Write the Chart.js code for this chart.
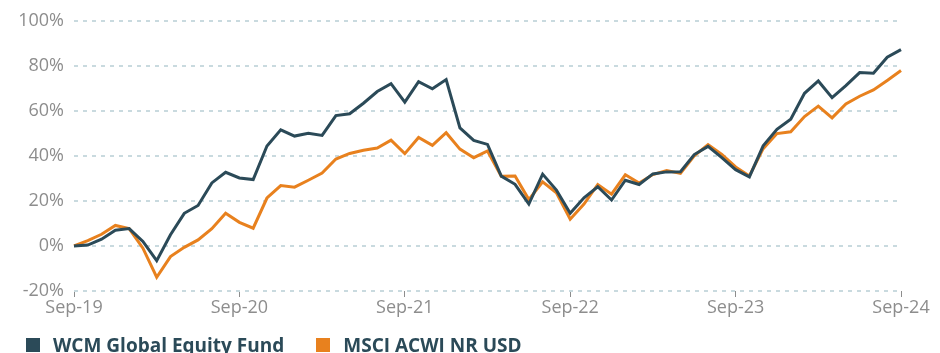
<!DOCTYPE html>
<html>
<head>
<meta charset="utf-8">
<script src="https://cdn.jsdelivr.net/npm/chart.js@4"></script>
<style>
  body { margin: 0; background: #fff; font-family: 'Open Sans', sans-serif; }
  #wrap { position: relative; width: 940px; height: 353px; }
  #legend { position: absolute; left: 26px; top: 332px; display: flex; align-items: center;
            font: 700 19px 'Open Sans', sans-serif; color: #2b4a58; }
  .item { display: flex; align-items: center; margin-right: 32px; }
  .box { width: 14px; height: 14px; margin-right: 13px; }
</style>
</head>
<body>
<div id="wrap">
  <canvas id="growthChart"></canvas>
  <div id="legend"></div>
</div>
<script>
const tickLabels = ['Sep-19', 'Sep-20', 'Sep-21', 'Sep-22', 'Sep-23', 'Sep-24'];
const monthNames = ['Sep', 'Oct', 'Nov', 'Dec', 'Jan', 'Feb', 'Mar', 'Apr', 'May', 'Jun', 'Jul', 'Aug'];

// monthly categories Sep-19 .. Sep-24
const months = [];
for (let i = 0; i <= 60; i++) {
    const yr = 19 + Math.floor((i + 8) / 12);
    months.push(monthNames[i % 12] + '-' + yr);
}

const fundValues = [0, 0.4, 3, 7, 7.7, 2, -6.5, 5, 14.5, 18, 28, 32.7, 30.2, 29.5, 44.4, 51.6, 48.8, 50, 49.1, 57.9,
    58.7, 63.4, 68.6, 72.1, 63.9, 73, 69.8, 73.9, 52.4, 46.9, 45.1, 31, 27.4, 18.6, 31.9, 24.8, 14.5, 21.4, 26.3, 20.4,
    29.2, 27.3, 32, 32.9, 33, 40.6, 44.2, 39.2, 33.9, 30.7, 44.5, 51.8, 56.3, 67.8, 73.3, 65.9, 71.2, 77, 76.7, 83.8, 87.2];

const indexValues = [0, 2.4, 5.2, 9.1, 7.7, -1, -13.9, -4.7, -0.6, 2.7, 7.7, 14.5, 10.5, 7.9, 21.3, 26.8, 26.1, 29.2, 32.4, 38.6,
    41.1, 42.5, 43.5, 47, 41, 48.2, 44.7, 50.3, 43, 39.2, 42.2, 31, 31.1, 20.6, 28.5, 23.6, 11.9, 18.6, 27.3, 23,
    31.6, 28, 31.7, 33.5, 32.2, 40, 45, 40.7, 35.1, 31.1, 43.2, 49.9, 50.7, 57.5, 62.1, 56.9, 63.1, 66.5, 69.3, 73.5, 77.9];

const seriesNames = ['WCM Global Equity Fund', 'MSCI ACWI NR USD'];
const seriesColors = ['#2b4a58', '#e8811e'];

const ctx = document.getElementById('growthChart').getContext('2d');

const growthChart = new Chart(ctx, {
    type: 'line',
    data: {
        labels: months,
        datasets: [
            { label: seriesNames[0], data: fundValues, borderColor: seriesColors[0], backgroundColor: seriesColors[0] },
            { label: seriesNames[1], data: indexValues, borderColor: seriesColors[1], backgroundColor: seriesColors[1] }
        ]
    },
    options: {
        responsive: true,
        maintainAspectRatio: false,
        animation: false,
        layout: { padding: { top: 20, right: 39, bottom: 32, left: 0 } },
        elements: {
            line: { borderWidth: 3, tension: 0, borderJoinStyle: 'miter' },
            point: { radius: 0, hoverRadius: 0 }
        },
        plugins: { legend: { display: false }, tooltip: { enabled: false } },
        scales: {
            x: {
                afterFit: s => { s.height = 30; },
                // only one tick per year (every September)
                afterBuildTicks: s => { s.ticks = s.ticks.filter(t => t.value % 12 === 0); },
                border: { display: false },
                grid: { drawOnChartArea: false, drawTicks: true, tickLength: 6, color: '#8d8d8d', lineWidth: 1 },
                ticks: {
                    autoSkip: false,
                    maxRotation: 0,
                    padding: 0,
                    color: '#8d8d8d',
                    font: { family: 'Open Sans', size: 18 },
                    callback: v => tickLabels[v / 12]
                }
            },
            y: {
                min: -20,
                max: 100,
                afterFit: s => { s.width = 74; },
                // v4 takes the gridline dash from border.dash
                border: { display: false, dash: [4, 5] },
                grid: { color: '#c9dadf', lineWidth: 2, drawTicks: false },
                ticks: {
                    stepSize: 20,
                    padding: 10,
                    color: '#8d8d8d',
                    font: { family: 'Open Sans', size: 18 },
                    callback: v => v + '%'
                }
            }
        }
    }
});

const legend = document.getElementById('legend');
seriesNames.forEach((name, i) => {
    const item = document.createElement('div');
    item.className = 'item';
    item.innerHTML = `<span class="box" style="background:${seriesColors[i]}"></span><span>${name}</span>`;
    legend.appendChild(item);
});
</script>
</body>
</html>
